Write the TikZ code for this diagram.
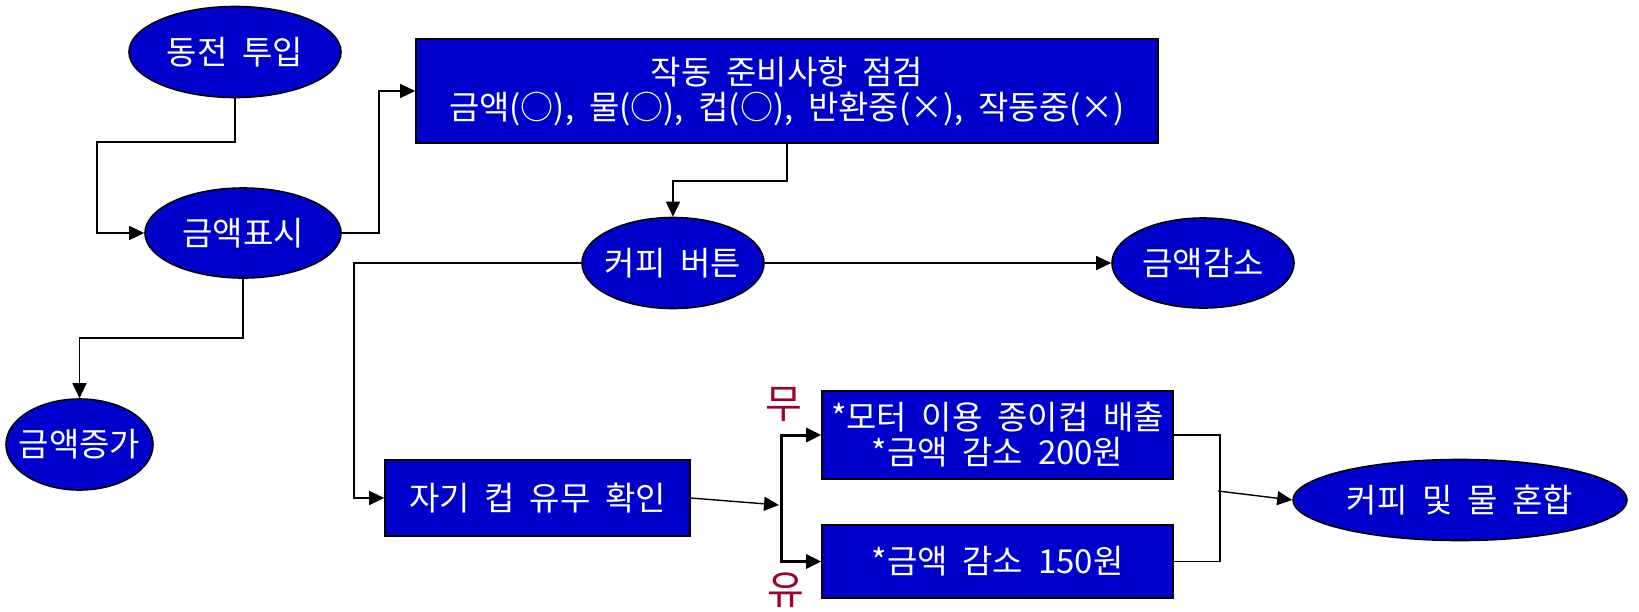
\documentclass[tikz,border=0pt]{standalone}
\usepackage{fontspec}
\newfontfamily\kr[WordSpace=2]{Noto Sans CJK KR}
\usetikzlibrary{shapes.geometric,arrows.meta}
\definecolor{nodeblue}{HTML}{0000CC}
\definecolor{lblred}{HTML}{A0002C}
\begin{document}
\begin{tikzpicture}[x=1pt,y=-1pt,
  ov/.style={ellipse,draw=black,line width=1.6pt,fill=nodeblue,inner sep=0pt},
  ovtext/.style={text=white,inner sep=0pt,font=\kr\fontsize{33}{36}\selectfont},
  bx/.style={rectangle,draw=black,line width=1.6pt,fill=nodeblue,text=white,inner sep=0pt,align=center,font=\kr\fontsize{33}{35}\selectfont},
  ln/.style={line width=1.4pt},
  arr/.style={ln,-{Triangle[length=15pt,width=14pt]}},
  boldln/.style={line width=3pt},
  lbl/.style={text=lblred,font=\kr\fontsize{40}{44}\selectfont,inner sep=0pt}]
\useasboundingbox (0,0) rectangle (1639,611);
% nodes
\node[ov,minimum width=212,minimum height=91,label={[ovtext]center:동전 투입}] (coin) at (235,52) {};
\node[ov,minimum width=196,minimum height=90,label={[ovtext]center:금액표시}] (disp) at (243,233) {};
\node[ov,minimum width=147,minimum height=91,label={[ovtext]center:금액증가}] (inc) at (79.5,444.5) {};
\node[bx,minimum width=742,minimum height=104] (check) at (787,91) {작동 준비사항 점검\\금액(○), 물(○), 컵(○), 반환중(×), 작동중(×)};
\node[ov,minimum width=182,minimum height=91,label={[ovtext]center:커피 버튼}] (btn) at (673,263) {};
\node[ov,minimum width=182,minimum height=90,label={[ovtext]center:금액감소}] (dec) at (1203,263) {};
\node[bx,minimum width=305,minimum height=76] (cup) at (537.5,498) {자기 컵 유무 확인};
\node[bx,minimum width=351,minimum height=88] (b1) at (997.5,435) {*모터 이용 종이컵 배출\\*금액 감소 200원};
\node[bx,minimum width=351,minimum height=73] (b2) at (997.5,561.5) {*금액 감소 150원};
\node[ov,minimum width=334,minimum height=81,label={[ovtext]center:커피 및 물 혼합}] (mix) at (1460,500) {};
\node[lbl] (no) at (784,404) {무};
\node[lbl] (yes) at (786,590) {유};
% junction coordinates
\coordinate (j1) at (97,142);
\coordinate (j2) at (379,233);
\coordinate (j3) at (787,181);
\coordinate (j4) at (243,338);
\coordinate (j5) at (354,263);
\coordinate (br) at (779,505);
\coordinate (bb) at (781,561.5);
\coordinate (mr) at (1220,500);
\coordinate (ms) at (1218,491);
% connectors
\draw[arr] (coin.south) |- (j1) |- (disp.west);
\draw[arr] (disp.east) -- (j2) |- (check.west);
\draw[arr] (check.south) -- (j3) -| (btn.north);
\draw[arr] (disp.south) -- (j4) -| (inc.north);
\draw[arr] (btn.east) -- (dec.west);
\draw[arr] (btn.west) -- (j5) |- (cup.west);
\draw[arr] (cup.east) -- (br);
\draw[boldln,{Triangle[length=15pt,width=14pt]}-{Triangle[length=15pt,width=14pt]}] (b1.west) -| (bb) -- (b2.west);
\draw[ln] (b1.east) -| (mr) |- (b2.east);
\draw[arr] (ms) -- (mix.west);
\end{tikzpicture}
\end{document}
